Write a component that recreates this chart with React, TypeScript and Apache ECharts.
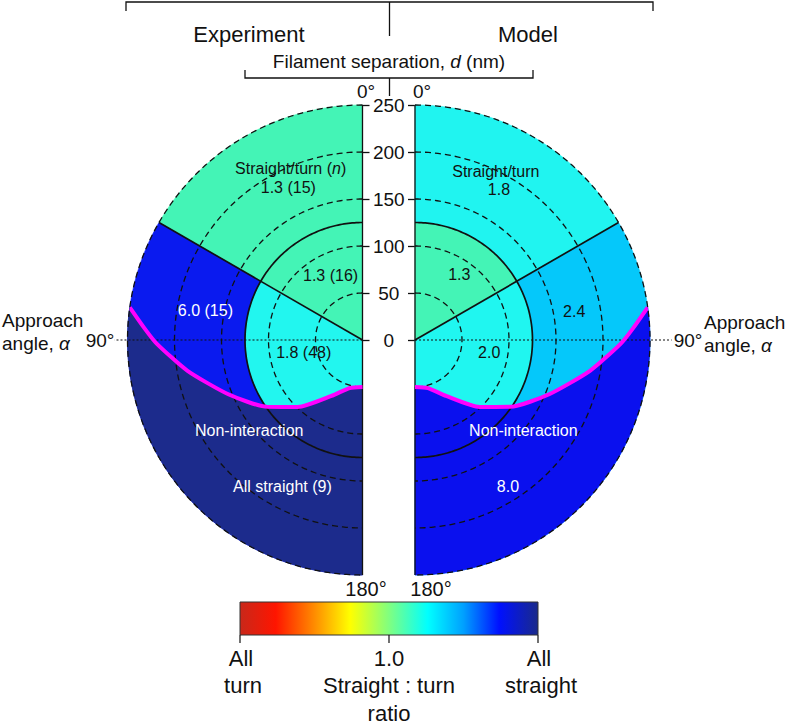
import React, { useEffect, useRef } from "react";
import * as echarts from "echarts";

// ---------------- data ----------------
const panelTitles = ["Experiment", "Model"];
const radiusTicks = [0, 50, 100, 150, 200, 250];
const dashedRadii = [50, 100, 150, 200, 250];
const maxRadius = 250; // nm
const splitRadius = 125; // nm, solid boundary
const splitAngle = 60; // degrees, radial boundary

// sectors (index 0..3): small/large alpha x small/large d
const sectorAngleFrom = [0, 0, 60, 60];
const sectorAngleTo = [60, 60, 180, 180];
const sectorRadiusFrom = [0, 125, 0, 125];
const sectorRadiusTo = [125, 250, 125, 250];

// straight : turn ratio per region (index 4 = non-interaction region)
const experimentRatio = ["1.3", "1.3", "1.8", "6.0", "All straight"];
const experimentCount = [16, 15, 48, 15, 9];
const modelRatio = ["1.3", "1.8", "2.0", "2.4", "8.0"];

// non-interaction boundary: approach angle (deg) and separation (nm)
const boundaryAngle = [82, 87, 91, 100, 112, 125, 136, 151, 165, 180];
const boundaryRadius = [250, 232, 219, 189, 154, 124, 99, 68, 53, 50];

// colour bar
const colorbarTicks = ["All\nturn", "1.0\nStraight : turn\nratio", "All\nstraight"];

// ---------------- styles / layout ----------------
const FONT = "'Liberation Sans', Arial, Helvetica, sans-serif";
const CENTERS = [
  [362.5, 340],
  [415, 340],
];
const RADIUS_PX = 235;
const experimentColors = ["#44F4B6", "#44F4B6", "#22F6EF", "#0A1AEF", "#1C2B8C"];
const modelColors = ["#44F4B6", "#20F4F0", "#20F6F0", "#05C8FA", "#0A10EE"];
const experimentTextColors = ["#111", "#111", "#111", "#fff", "#fff"];
const modelTextColors = ["#111", "#111", "#111", "#111", "#fff"];
// label anchors in [radius nm, angle deg]
const experimentLabelPos = [
  [77, 26.2],
  [180, 26.0],
  [64, 102.4],
  [170, 79.5],
  [178, 151.4],
];
const experimentHeaderPos = [198, 22.7];
const experimentNonPos = [154, 128.5];
const modelLabelPos = [
  [84, 34.1],
  [183, 29.2],
  [80, 99.2],
  [172, 80.0],
  [185, 147.7],
];
const modelHeaderPos = [199, 25.6];
const modelNonPos = [150, 129.8];
const dottedReach = [264, 273];

function arc(api: any, r: number, a0: number, a1: number) {
  const pts: number[][] = [];
  const n = Math.max(2, Math.ceil(Math.abs(a1 - a0)));
  for (let k = 0; k <= n; k++) pts.push(api.coord([r, a0 + ((a1 - a0) * k) / n]));
  return pts;
}

function fillSeries(pi: number, colors: string[]) {
  return {
    type: "custom",
    coordinateSystem: "polar",
    polarIndex: pi,
    z: 1,
    silent: true,
    data: [[0, 0]],
    renderItem: (_p: any, api: any) => {
      const children: any[] = [];
      for (let s = 0; s < sectorAngleFrom.length; s++) {
        const outer = arc(api, sectorRadiusTo[s], sectorAngleFrom[s], sectorAngleTo[s]);
        const inner =
          sectorRadiusFrom[s] > 0
            ? arc(api, sectorRadiusFrom[s], sectorAngleTo[s], sectorAngleFrom[s])
            : [api.coord([0, 0])];
        children.push({
          type: "polygon",
          shape: { points: outer.concat(inner) },
          style: { fill: colors[s], stroke: colors[s], lineWidth: 0.6 },
        });
      }
      const curve = boundaryAngle.map((a, k) => api.coord([boundaryRadius[k], a]));
      const rim = arc(api, maxRadius, 180, boundaryAngle[0]);
      children.push({
        type: "polygon",
        shape: { points: curve.concat(rim) },
        style: { fill: colors[4], stroke: colors[4], lineWidth: 0.6 },
      });
      return { type: "group", children };
    },
  };
}

function lineSeries(pi: number) {
  return {
    type: "custom",
    coordinateSystem: "polar",
    polarIndex: pi,
    z: 3,
    silent: true,
    data: [[0, 0]],
    renderItem: (_p: any, api: any) => {
      const ch: any[] = [];
      dashedRadii.forEach((r) =>
        ch.push({
          type: "polyline",
          shape: { points: arc(api, r, 0, 180) },
          style: { stroke: "#111", lineWidth: 1.3, lineDash: [6, 4], fill: null },
        })
      );
      ch.push({
        type: "polyline",
        shape: { points: arc(api, splitRadius, 0, 180) },
        style: { stroke: "#111", lineWidth: 1.7, fill: null },
      });
      ch.push({
        type: "polyline",
        shape: { points: [api.coord([0, splitAngle]), api.coord([maxRadius, splitAngle])] },
        style: { stroke: "#111", lineWidth: 1.7, fill: null },
      });
      ch.push({
        type: "polyline",
        shape: { points: [api.coord([maxRadius, 0]), api.coord([0, 0]), api.coord([maxRadius, 180])] },
        style: { stroke: "#111", lineWidth: 1.3, fill: null },
      });
      ch.push({
        type: "polyline",
        shape: { points: [api.coord([0, 90]), api.coord([dottedReach[pi], 90])] },
        style: { stroke: "#111", lineWidth: 1.1, lineDash: [2, 2], fill: null },
      });
      return { type: "group", children: ch };
    },
  };
}

function labelSeries(pi: number, labels: { text: string; pos: number[]; color: string }[]) {
  return {
    type: "custom",
    coordinateSystem: "polar",
    polarIndex: pi,
    z: 5,
    silent: true,
    data: [[0, 0]],
    renderItem: (_p: any, api: any) => {
      const ch = labels.map((l) => {
        const p = api.coord([l.pos[0], l.pos[1]]);
        return {
          type: "text",
          x: p[0],
          y: p[1],
          style: {
            text: l.text,
            fill: l.color,
            fontSize: 16,
            fontFamily: FONT,
            align: "center",
            verticalAlign: "middle",
            rich: { i: { fontStyle: "italic", fontSize: 16, fontFamily: FONT, fill: l.color } },
          },
        };
      });
      return { type: "group", children: ch };
    },
  };
}

function boundarySeries(pi: number) {
  return {
    type: "line",
    coordinateSystem: "polar",
    polarIndex: pi,
    z: 4,
    silent: true,
    smooth: 0.2,
    symbol: "none",
    lineStyle: { color: "#FF00FF", width: 4 },
    data: boundaryRadius.map((r, k) => [r, boundaryAngle[k]]),
  };
}

const experimentLabels = [
  { text: "Straight/turn ({i|n})", pos: experimentHeaderPos, color: experimentTextColors[1] },
  ...experimentRatio.map((r, k) => ({
    text: `${r} (${experimentCount[k]})`,
    pos: experimentLabelPos[k],
    color: experimentTextColors[k],
  })),
  { text: "Non-interaction", pos: experimentNonPos, color: experimentTextColors[4] },
];
const modelLabels = [
  { text: "Straight/turn", pos: modelHeaderPos, color: modelTextColors[1] },
  ...modelRatio.map((r, k) => ({ text: r, pos: modelLabelPos[k], color: modelTextColors[k] })),
  { text: "Non-interaction", pos: modelNonPos, color: modelTextColors[4] },
];

function txt(text: string, x: number, y: number, size: number, align = "center", rich?: any) {
  return {
    type: "text",
    x,
    y,
    silent: true,
    style: {
      text,
      fill: "#111",
      fontSize: size,
      fontFamily: FONT,
      align,
      verticalAlign: "middle",
      rich,
    },
  };
}

function line(points: number[][], w = 1.3) {
  return { type: "polyline", silent: true, shape: { points }, style: { stroke: "#111", lineWidth: w, fill: null } };
}

export default function App() {
  const ref = useRef<HTMLDivElement>(null);
  useEffect(() => {
    if (!ref.current) return;
    const chart = echarts.init(ref.current, undefined, { renderer: "svg" });
    const italic = (s: number) => ({ i: { fontStyle: "italic", fontSize: s, fontFamily: FONT, fill: "#111" } });
    const cbX = 240,
      cbY = 602,
      cbW = 298,
      cbH = 33;
    const tickLines = colorbarTicks.map((_, k) => {
      const x = cbX + (cbW * k) / (colorbarTicks.length - 1);
      return line([[x, cbY + cbH], [x, cbY + cbH + 8]], 1.2);
    });
    const tickTexts: any[] = [];
    colorbarTicks.forEach((t, k) => {
      const x = cbX + (cbW * k) / (colorbarTicks.length - 1) + (k === 0 ? 1 : k === 2 ? 1 : 0);
      t.split("\n").forEach((s, j) => tickTexts.push(txt(s, x + (k !== 1 && j === 1 ? 2 : 0), 658 + j * 27.5, 22)));
    });

    const option: any = {
      animation: false,
      polar: CENTERS.map((c) => ({ center: c, radius: RADIUS_PX })),
      angleAxis: CENTERS.map((_, i) => ({
        polarIndex: i,
        type: "value",
        min: 0,
        max: 360,
        startAngle: 90,
        clockwise: i === 1,
        show: false,
        splitLine: { show: false },
        axisLine: { show: false },
        axisLabel: { show: false },
        axisTick: { show: false },
      })),
      radiusAxis: CENTERS.map((_, i) => ({
        polarIndex: i,
        type: "value",
        min: 0,
        max: maxRadius,
        show: false,
        splitLine: { show: false },
        axisLine: { show: false },
        axisLabel: { show: false },
        axisTick: { show: false },
      })),
      grid: {
        left: CENTERS[0][0],
        top: CENTERS[0][1] - RADIUS_PX,
        width: CENTERS[1][0] - CENTERS[0][0],
        height: RADIUS_PX,
      },
      xAxis: { type: "value", show: false, min: 0, max: 1 },
      yAxis: [
        {
          type: "value",
          position: "left",
          min: 0,
          max: maxRadius,
          interval: 50,
          axisLine: { show: false },
          splitLine: { show: false },
          axisTick: { show: true, inside: true, length: 7, lineStyle: { color: "#111", width: 1.3 } },
          axisLabel: {
            inside: true,
            margin: (CENTERS[1][0] - CENTERS[0][0]) / 2,
            align: "center",
            color: "#111",
            fontSize: 19,
            fontFamily: FONT,
            formatter: (v: number) => (radiusTicks.includes(v) ? String(v) : ""),
          },
        },
        {
          type: "value",
          position: "right",
          min: 0,
          max: maxRadius,
          interval: 50,
          axisLine: { show: false },
          splitLine: { show: false },
          axisTick: { show: true, inside: true, length: 7, lineStyle: { color: "#111", width: 1.3 } },
          axisLabel: { show: false },
        },
      ],
      series: [
        fillSeries(0, experimentColors),
        fillSeries(1, modelColors),
        lineSeries(0),
        lineSeries(1),
        boundarySeries(0),
        boundarySeries(1),
        labelSeries(0, experimentLabels),
        labelSeries(1, modelLabels),
      ],
      graphic: [
        // top bracket
        line([[126, 11], [126, 2], [653, 2], [653, 11]]),
        line([[389.5, 2], [389.5, 36]]),
        txt(panelTitles[0], 249, 34, 22),
        txt(panelTitles[1], 528, 34, 22),
        // filament separation bracket
        line([[245, 70], [245, 78], [533, 78], [533, 70]]),
        line([[389.5, 78], [389.5, 96]]),
        txt("Filament separation, {i|d} (nm)", 389, 61, 19, "center", italic(19)),
        txt("0°", 366, 91, 19),
        txt("0°", 422, 91, 19),
        txt("180°", 366, 589, 20),
        txt("180°", 431, 589, 20),
        // approach angle labels
        txt("Approach", 2, 320, 19, "left"),
        txt("angle, {i|α}", 2, 343, 19, "left", italic(19)),
        txt("90°", 100, 340, 19),
        txt("90°", 688, 340, 19),
        txt("Approach", 704, 322, 19, "left"),
        txt("angle, {i|α}", 704, 345, 19, "left", italic(19)),
        // colour bar
        {
          type: "rect",
          silent: true,
          shape: { x: cbX, y: cbY, width: cbW, height: cbH },
          style: {
            stroke: "#333",
            lineWidth: 1,
            fill: new echarts.graphic.LinearGradient(0, 0, 1, 0, [
              { offset: 0, color: "#C8281A" },
              { offset: 0.12, color: "#FF1500" },
              { offset: 0.25, color: "#FF8C00" },
              { offset: 0.37, color: "#FFFF00" },
              { offset: 0.5, color: "#80FF80" },
              { offset: 0.63, color: "#00FFFF" },
              { offset: 0.75, color: "#00A0FF" },
              { offset: 0.87, color: "#0010FF" },
              { offset: 1, color: "#1A2A8A" },
            ]),
          },
        },
        ...tickLines,
        ...tickTexts,
      ],
    };
    chart.setOption(option);
    return () => chart.dispose();
  }, []);
  return (
    <div
      ref={ref}
      style={{ position: "absolute", left: 0, top: 0, width: 788, height: 726, background: "#fff" }}
    />
  );
}
